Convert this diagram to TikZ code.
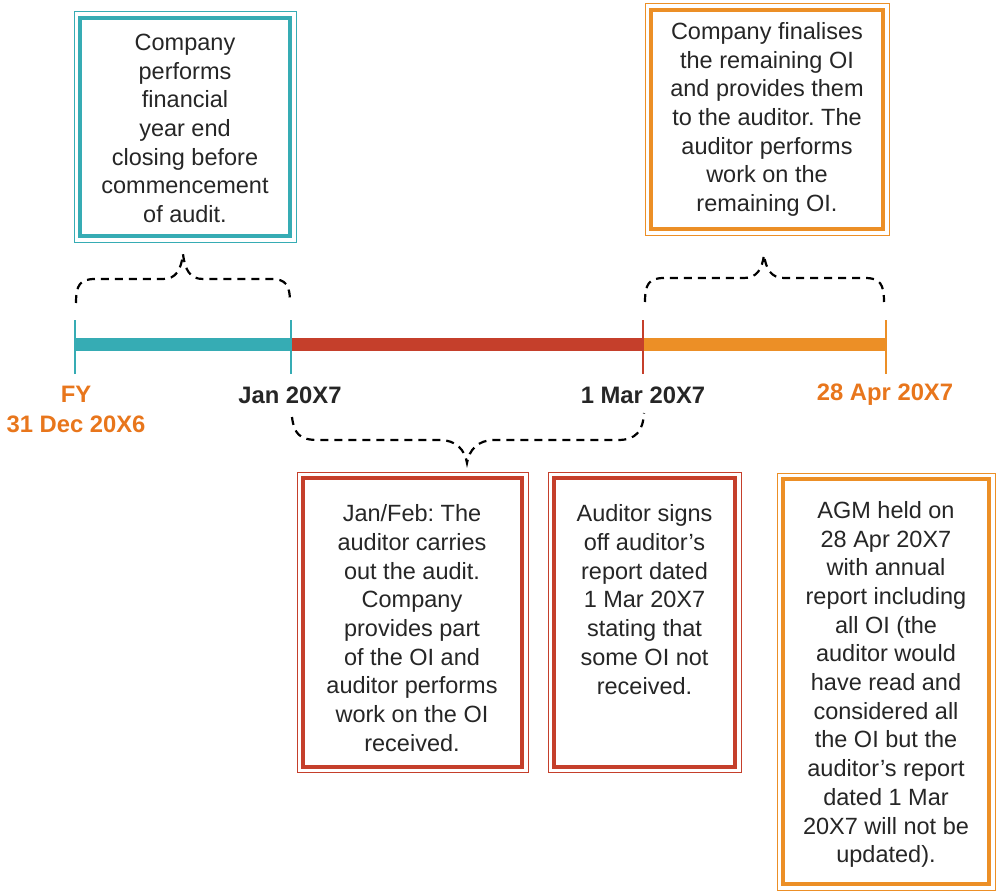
\documentclass[tikz,border=0pt]{standalone}
\usepackage{fontspec}
\setmainfont{Liberation Sans}
\definecolor{tealc}{HTML}{36ACB4}
\definecolor{redc}{HTML}{C53F2B}
\definecolor{orangec}{HTML}{EC8F26}
\definecolor{orangetxt}{HTML}{E8761C}
\definecolor{txt}{HTML}{262626}
\frenchspacing
\begin{document}
\frenchspacing
\begin{tikzpicture}[x=1pt,y=-1pt,
  boxtext/.style={align=center, inner sep=0pt, text=txt, font=\fontsize{23.5}{28.7}\selectfont\frenchspacing},
  datelabel/.style={align=center, inner sep=0pt, font=\bfseries\fontsize{23.8}{30}\selectfont},
  brace/.style={dash pattern=on 8pt off 6pt, line width=2.2pt, black},
  tickmark/.style={line width=2pt},
  barseg/.style={line width=13pt},
  outerframe/.style={draw, line width=1pt, inner sep=0pt, fill=white},
  innerframe/.style={draw, line width=4.5pt, inner sep=0pt},
]
\useasboundingbox (0,0) rectangle (999,891);

% timeline points
\coordinate (p0) at (75,344);
\coordinate (p1) at (291,344);
\coordinate (p2) at (643,344);
\coordinate (p3) at (886,344);

% bar segments
\draw[barseg, tealc] (p0) -- (p1);
\draw[barseg, redc] (p1) -- (p2);
\draw[barseg, orangec] (p2) -- (p3);

% ticks
\draw[tickmark, tealc] ([yshift=-30pt]p0) -- ([yshift=24pt]p0);
\draw[tickmark, tealc] ([yshift=-30pt]p1) -- ([yshift=24pt]p1);
\draw[tickmark, redc] ([yshift=-30pt]p2) -- ([yshift=24pt]p2);
\draw[tickmark, orangec] ([yshift=-30pt]p3) -- ([yshift=24pt]p3);

% date labels
\node[datelabel, text=orangetxt] (l0) at (76,409) {FY\\31 Dec 20X6};
\node[datelabel, text=txt] (l1) at (290,395) {Jan 20X7};
\node[datelabel, text=txt] (l2) at (643,395) {1 Mar 20X7};
\node[datelabel, text=orangetxt] (l3) at (885,395) {28 Apr 20X7};

% box 1 (teal)
\node[outerframe, draw=tealc, minimum width=222pt, minimum height=230pt] (b1) at (185,127) {};
\node[innerframe, draw=tealc, minimum width=210pt, minimum height=218pt] (b1i) at (b1) {};
\node[boxtext] (t1) at (185,128.5) {Company\\performs\\financial\\year end\\closing before\\commencement\\of audit.};

% box 2 (orange, top)
\node[outerframe, draw=orangec, minimum width=244pt, minimum height=231pt] (b2) at (767,119.5) {};
\node[innerframe, draw=orangec, minimum width=232pt, minimum height=219pt] (b2i) at (b2) {};
\node[boxtext] (t2) at (767,119.5) {Company finalises\\the remaining OI\\and provides them\\to the auditor. The\\auditor performs\\work on the\\remaining OI.};

% box 3 (red)
\node[outerframe, draw=redc, minimum width=231pt, minimum height=300pt] (b3) at (412.5,622.5) {};
\node[innerframe, draw=redc, minimum width=219pt, minimum height=289pt] (b3i) at (b3) {};
\node[boxtext] (t3) at (412,628) {Jan/Feb: The\\auditor carries\\out the audit.\\Company\\provides part\\of the OI and\\auditor performs\\work on the OI\\received.};

% box 4 (red)
\node[outerframe, draw=redc, minimum width=193pt, minimum height=300pt] (b4) at (644.5,622.5) {};
\node[innerframe, draw=redc, minimum width=181pt, minimum height=289pt] (b4i) at (b4) {};
\node[boxtext] (t4) at (644.5,599.5) {Auditor signs\\off auditor’s\\report dated\\1 Mar 20X7\\stating that\\some OI not\\received.};

% box 5 (orange, bottom)
\node[outerframe, draw=orangec, minimum width=218pt, minimum height=417pt] (b5) at (886,681.5) {};
\node[innerframe, draw=orangec, minimum width=206pt, minimum height=405pt] (b5i) at (b5) {};
\node[boxtext] (t5) at (886,684.5) {AGM held on\\28 Apr 20X7\\with annual\\report including\\all OI (the\\auditor would\\have read and\\considered all\\the OI but the\\auditor’s report\\dated 1 Mar\\20X7 will not be\\updated).};

% braces
\coordinate (a1) at (76,303);
\coordinate (k1) at (183,254);
\coordinate (c1) at (290,303);
\draw[brace] (a1) .. controls (76,285) and (80,279) .. (95,279) -- (163,279)
  .. controls (176,279) and (181,270) .. (k1)
  .. controls (185,270) and (190,279) .. (203,279) -- (271,279)
  .. controls (286,279) and (290,285) .. (c1);

\coordinate (a2) at (645,302);
\coordinate (k2) at (764,255);
\coordinate (c2) at (884,302);
\draw[brace] (a2) .. controls (645,284) and (649,278) .. (664,278) -- (744,278)
  .. controls (757,278) and (762,269) .. (k2)
  .. controls (766,269) and (771,278) .. (784,278) -- (865,278)
  .. controls (880,278) and (884,284) .. (c2);

\coordinate (a3) at (292,417);
\coordinate (k3) at (467,463);
\coordinate (c3) at (644,413);
\draw[brace] (a3) .. controls (294,434) and (300,440) .. (318,440) -- (440,440)
  .. controls (456,440) and (465,450) .. (k3)
  .. controls (469,450) and (478,440) .. (494,440) -- (618,440)
  .. controls (636,440) and (643,431) .. (c3);
\end{tikzpicture}
\end{document}
